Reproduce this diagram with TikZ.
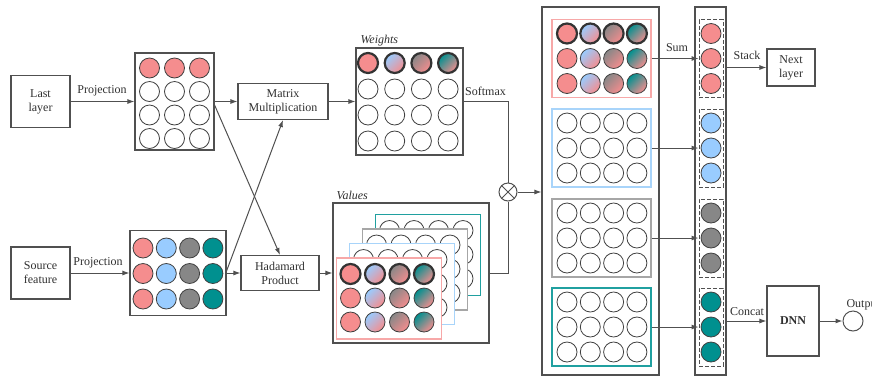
\documentclass[tikz,border=0pt]{standalone}
\usepackage{fontspec}
\setmainfont{Liberation Serif}
\usetikzlibrary{arrows.meta,calc}
\definecolor{lc}{HTML}{505050}
\definecolor{cc}{HTML}{404040}
\definecolor{txtc}{HTML}{303030}
\definecolor{cpink}{HTML}{F58D8E}
\definecolor{cblue}{HTML}{99CCFF}
\definecolor{cgrey}{HTML}{878787}
\definecolor{cteal}{HTML}{00908F}
\definecolor{fpink}{HTML}{F7A8A8}
\definecolor{fblue}{HTML}{A8D4FA}
\definecolor{fgrey}{HTML}{A6A6A6}
\definecolor{fteal}{HTML}{20A0A0}
\newcommand\gradrow[4]{%
  \node[cdot,#4,fill=cpink] at (#1,#3) {};
  \node[cdot,#4,g2] at ({#1+#2},#3) {};
  \node[cdot,#4,g3] at ({#1+2*#2},#3) {};
  \node[cdot,#4,g4] at ({#1+3*#2},#3) {};}
\newcommand\vlayer[3]{%
  \draw[fill=white,draw=#3,line width=1.6pt] (#1,#2) rectangle ++(105,81);
  \foreach \i in {0,...,3}{\foreach \j in {0,1,2}{
    \node[cdot] at ({#1+14+24.5*\i},{#2+16+24*\j}) {};}}}
\begin{document}
\begin{tikzpicture}[x=1pt,y=-1pt,
  font=\fontsize{12}{14}\selectfont,
  every node/.style={text=txtc},
  box/.style={draw=lc,line width=1.1pt,fill=white,align=center,inner sep=0pt},
  arr/.style={draw=lc,line width=1pt,-{Latex[length=7pt,width=5pt]}},
  ln/.style={draw=lc,line width=1pt},
  cdot/.style={circle,draw=cc,line width=0.8pt,minimum size=20pt,inner sep=0pt,fill=white},
  thk/.style={line width=2.2pt,draw=black!80},
  thn/.style={},
  g2/.style={top color=cblue,bottom color=cpink,shading angle=45},
  g3/.style={top color=cgrey,bottom color=cpink,shading angle=45},
  g4/.style={top color=cteal,bottom color=cpink,shading angle=45},
  frm/.style={line width=1.6pt,minimum width=99pt,minimum height=78pt,inner sep=0pt},
  grp/.style={draw=lc,dash pattern=on 4pt off 2pt,line width=0.9pt,minimum width=24pt,minimum height=78pt,inner sep=0pt}]
\useasboundingbox (0,0) rectangle (872,376);

% left column
\node[box,minimum width=59pt,minimum height=52pt] (last) at (40.5,101.5) {Last\\layer};
\node[box,minimum width=59pt,minimum height=52pt] (src) at (40.5,273) {Source\\feature};

% projection matrices
\node[box,minimum width=79pt,minimum height=97pt] (P1) at (174.5,101.5) {};
\foreach \j/\f in {0/cpink,1/white,2/white,3/white}{\foreach \i in {0,1,2}{
  \node[cdot,fill=\f] at ({149.5+25*\i},{68+23.5*\j}) {};}}
\node[box,minimum width=96pt,minimum height=85pt] (P2) at (178,273) {};
\foreach \i/\c in {0/cpink,1/cblue,2/cgrey,3/cteal}{\foreach \j in {0,1,2}{
  \node[cdot,fill=\c] at ({143+23.3*\i},{248+25.5*\j}) {};}}

\node[box,minimum width=90pt,minimum height=36pt] (MM) at (283,101.5) {Matrix\\Multiplication};
\node[box,minimum width=78pt,minimum height=35pt] (HP) at (280,273) {Hadamard\\Product};

% weights
\node[box,minimum width=107pt,minimum height=107pt] (W) at (409.5,101.5) {};
\node[anchor=base west,font=\fontsize{12}{14}\selectfont\itshape] (wl) at (357,43) {Weights};
\gradrow{368}{26.7}{63}{thk}
\foreach \j in {1,2,3}{\foreach \i in {0,...,3}{
  \node[cdot] at ({368+26.7*\i},{63+26*\j}) {};}}

% values
\node[box,minimum width=156pt,minimum height=140pt] (V) at (411,273) {};
\node[anchor=base west,font=\fontsize{12}{14}\selectfont\itshape] (vl) at (333,199) {Values};
\vlayer{375.5}{214.5}{fteal}
\vlayer{362.5}{229}{fgrey}
\vlayer{349.5}{243.5}{fblue}
\draw[fill=white,draw=fpink,line width=1.6pt] (336.5,258) rectangle ++(105,81);
\gradrow{350.5}{24.5}{274}{thk}
\gradrow{350.5}{24.5}{298}{thn}
\gradrow{350.5}{24.5}{322}{thn}

% otimes
\node[circle,draw=lc,line width=1pt,minimum size=18pt,inner sep=0pt] (OT) at (508,192) {};
\draw[ln] (OT.north west) -- (OT.south east) (OT.north east) -- (OT.south west);

% big box with four frames
\node[box,minimum width=117pt,minimum height=368pt] (B) at (600.5,191) {};
\node[frm,draw=fpink] (F1) at (601.5,58.5) {};
\node[frm,draw=fblue] (F2) at (601.5,148) {};
\node[frm,draw=fgrey] (F3) at (601.5,238) {};
\node[frm,draw=fteal] (F4) at (601.5,327) {};
\gradrow{567}{23.3}{33.5}{thk}
\gradrow{567}{23.3}{58.5}{thn}
\gradrow{567}{23.3}{83.5}{thn}
\foreach \c in {148,238,327}{\foreach \i in {0,...,3}{\foreach \j in {-1,0,1}{
  \node[cdot] at ({567+23.3*\i},{\c+25*\j}) {};}}}

% stack column
\node[box,minimum width=31pt,minimum height=368pt] (S) at (710.5,191) {};
\node[grp] (G1) at (711,58.5) {};
\node[grp] (G2) at (711,148) {};
\node[grp] (G3) at (711,238) {};
\node[grp] (G4) at (711,327) {};
\foreach \c/\f in {58.5/cpink,148/cblue,238/cgrey,327/cteal}{\foreach \j in {-1,0,1}{
  \node[cdot,fill=\f] at (711,{\c+25*\j}) {};}}

\node[box,minimum width=48pt,minimum height=37pt] (NX) at (791,67.5) {Next\\layer};
\node[box,minimum width=52pt,minimum height=70pt,font=\fontsize{12}{14}\selectfont\bfseries] (DNN) at (793,321) {DNN};
\node[circle,draw=lc,line width=1pt,minimum size=20pt,inner sep=0pt,fill=white] (O) at (853,321) {};
\node[anchor=west] (ol) at (843,305) {Output};

% connectors
\draw[arr] (last.east) -- (last.east -| P1.west);
\node (pj1) at (102,91) {Projection};
\draw[arr] (src.east) -- (src.east -| P2.west);
\node (pj2) at (98,263) {Projection};
\draw[arr] (P1.east) -- (MM.west);
\draw[arr] (P2.east) -- (HP.west);
\draw[arr] ($(P1.east)+(0,3.5)$) -- (HP.north);
\draw[arr] ($(P2.east)+(0,-2)$) -- (MM.south);
\draw[arr] (MM.east) -- (W.west);
\draw[arr] (HP.east) -- (V.west);
\draw[ln] (W.east) -| (OT.north);
\node (sm) at (485.5,91) {Softmax};
\draw[ln] (V.east) -| (OT.south);
\draw[arr] (OT.east) -- (OT.east -| B.west);
\draw[arr] (F1.east) -- (G1.west);
\draw[arr] (F2.east) -- (G2.west);
\draw[arr] (F3.east) -- (G3.west);
\draw[arr] (F4.east) -- (G4.west);
\node (sl) at (677,48) {Sum};
\draw[arr] (S.east |- NX.west) -- (NX.west);
\node (stl) at (747,55) {Stack};
\draw[arr] (S.east |- DNN.west) -- (DNN.west);
\node (cl) at (747,312) {Concat};
\draw[arr] (DNN.east) -- (O.west);
\end{tikzpicture}
\end{document}
